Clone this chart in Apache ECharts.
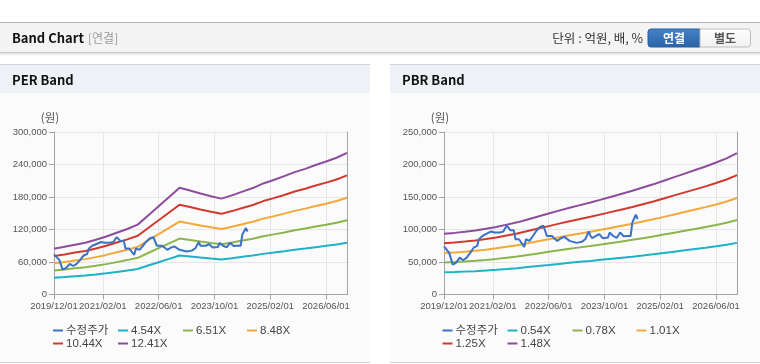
<!DOCTYPE html>
<html><head><meta charset="utf-8">
<script src="https://cdn.jsdelivr.net/npm/echarts@6/dist/echarts.min.js"></script>
<style>html,body{margin:0;padding:0;background:#fff;}#c{width:760px;height:364px;}</style>
</head><body><div id="c"></div>
<script>
// ---- data ----
const tickLabels = ['2019/12/01','2021/02/01','2022/06/01','2023/10/01','2025/02/01','2026/06/01'];
const bandDates = ['2019/12/01','2020/03/01','2020/06/01','2020/09/01','2020/12/01','2021/03/01','2021/06/01','2021/09/01','2021/12/01','2022/03/01','2022/06/01','2022/09/01','2022/12/01','2023/03/01','2023/06/01','2023/09/01','2023/12/01','2024/03/01','2024/06/01','2024/09/01','2024/12/01','2025/03/01','2025/06/01','2025/09/01','2025/12/01','2026/03/01','2026/06/01','2026/09/01','2026/12/01'];
const priceDates = ['2019/12/01','2019/12/16','2020/01/16','2020/02/16','2020/03/16','2020/04/16','2020/05/16','2020/06/16','2020/07/16','2020/08/16','2020/09/16','2020/10/01','2020/11/01','2020/12/01','2021/01/16','2021/02/16','2021/04/01','2021/05/01','2021/06/01','2021/07/01','2021/08/01','2021/08/16','2021/09/16','2021/11/01','2021/11/16','2021/12/16','2022/01/16','2022/02/16','2022/03/16','2022/04/16','2022/05/16','2022/07/01','2022/07/16','2022/08/16','2022/09/16','2022/10/16','2022/12/01','2023/02/01','2023/03/16','2023/04/16','2023/05/16','2023/06/01','2023/06/16','2023/07/16','2023/08/16','2023/09/16','2023/11/01','2023/11/16','2023/12/16','2024/01/16','2024/02/16','2024/03/16','2024/04/16','2024/05/16','2024/06/01','2024/07/01','2024/07/16'];
const priceValues = [74000,72000,64000,46000,49000,56700,52600,56700,64000,72000,74700,85000,90000,92800,97000,95400,95400,97000,106000,99000,99000,85000,85000,73200,85000,82500,90000,98000,104000,105700,90000,90000,86600,82500,86600,88700,82500,79400,81000,85000,97000,90000,86600,90000,92800,86600,87600,95400,90000,87000,95400,89700,90000,90000,110800,122700,116000];

const perNames = ['수정주가','4.54X','6.51X','8.48X','10.44X','12.41X'];
const pbrNames = ['수정주가','0.54X','0.78X','1.01X','1.25X','1.48X'];

const per454 = [30900,32200,33700,34900,36900,39100,41700,44300,47200,53400,59600,65800,72100,70200,68200,66400,64700,66900,69500,71900,75000,77400,79900,82700,84900,87400,89800,92400,95700];
const per651 = [44300,46200,48300,50100,53000,56100,59800,63500,67700,76600,85500,94400,103300,100700,97800,95200,92900,96000,99700,103100,107500,111000,114600,118600,121700,125400,128800,132500,137200];
const per848 = [57700,60100,62900,65300,69000,73100,77900,82700,88100,99800,111400,123000,134600,131200,127400,124000,120900,125000,129800,134300,140100,144500,149300,154400,158500,163300,167700,172500,178700];
const per1044 = [71100,74000,77400,80300,85000,90000,95900,101800,108500,122800,137100,151400,165700,161500,156900,152700,148900,154000,159800,165300,172500,177900,183800,190100,195200,201100,206500,212400,220000];
const per1241 = [84500,88000,92000,95500,101000,107000,114000,121000,129000,146000,163000,180000,197000,192000,186500,181500,177000,183000,190000,196500,205000,211500,218500,226000,232000,239000,245500,252500,261500];

const pbr054 = [34100,34600,35200,35900,36900,38000,39200,40500,42200,43800,45400,47100,48700,50200,51600,53300,54900,56600,58200,60000,61900,63900,65900,67900,69900,71900,74100,76500,79400];
const pbr078 = [49200,50000,50900,51900,53200,54800,56700,58500,60900,63200,65600,68000,70400,72500,74600,76900,79300,81700,84100,86700,89300,92200,95100,98000,100900,103800,107000,110400,114600];
const pbr101 = [63700,64700,65900,67200,68900,71000,73400,75800,78800,81900,85000,88000,91100,93800,96600,99600,102700,105800,108800,112300,115700,119400,123200,126900,130700,134400,138500,143000,148400];
const pbr125 = [78800,80100,81500,83200,85300,87800,90800,93800,97600,101400,105200,109000,112800,116100,119500,123300,127100,130900,134700,138900,143200,147800,152500,157100,161700,166400,171500,176900,183700];
const pbr148 = [93300,94800,96500,98500,101000,104000,107500,111000,115500,120000,124500,129000,133500,137500,141500,146000,150500,155000,159500,164500,169500,175000,180500,186000,191500,197000,203000,209500,217500];

const perYMax = 300000, perYStep = 60000;
const pbrYMax = 250000, pbrYStep = 50000;

const colors = ['#3a72c4','#1db2c6','#8bb54c','#f4a83a','#d03a2e','#8d4c9c'];

// ---- build ----
const categories = [];
(function(){
  let y = 2019, m = 12;
  while (true) {
    const mm = (m < 10 ? '0' : '') + m;
    categories.push(y + '/' + mm + '/01');
    if (y === 2026 && m === 12) break;
    categories.push(y + '/' + mm + '/16');
    m++; if (m > 12) { m = 1; y++; }
  }
})();
const showTick = (i, v) => tickLabels.indexOf(v) >= 0;
const pairs = (d, v) => d.map((x, i) => [x, v[i]]);

const FONT_NUM = "'Liberation Sans', Arial, sans-serif";
const FONT_KR = "'Noto Sans CJK KR', 'Liberation Sans', sans-serif";
const FONT_MIX = "'Liberation Sans', 'Noto Sans CJK KR', sans-serif";
const axisColor = '#a3a3a3';

function xAxisCfg(gi) {
  return {
    type: 'category', gridIndex: gi, data: categories, boundaryGap: false,
    axisLine: { lineStyle: { color: axisColor } },
    axisTick: { interval: showTick, length: 5, lineStyle: { color: axisColor } },
    axisLabel: { interval: showTick, fontSize: 9.5, color: '#555', margin: 7, fontFamily: FONT_NUM },
    splitLine: { show: true, interval: showTick, lineStyle: { color: '#e6e6e6' } }
  };
}
function yAxisCfg(gi, max, step) {
  return {
    type: 'value', gridIndex: gi, min: 0, max: max, interval: step,
    axisLine: { show: true, lineStyle: { color: axisColor } },
    axisTick: { show: true, length: 5, lineStyle: { color: axisColor } },
    axisLabel: { fontSize: 9.5, color: '#555', margin: 7, fontFamily: FONT_NUM,
      formatter: v => v.toString().replace(/\B(?=(\d{3})+(?!\d))/g, ',') },
    splitLine: { lineStyle: { color: '#e6e6e6' } }
  };
}
function yBorderCfg(gi, max) {
  return {
    type: 'value', gridIndex: gi, position: 'right', min: 0, max: max,
    axisLine: { show: true, lineStyle: { color: axisColor } },
    axisTick: { show: false }, axisLabel: { show: false }, splitLine: { show: false }
  };
}
function lineSeries(name, data, color, xi, yi, z) {
  return { type: 'line', name: name, data: data, xAxisIndex: xi, yAxisIndex: yi,
    showSymbol: false, symbol: 'none', lineStyle: { width: 2, color: color },
    itemStyle: { color: color }, z: z || 2 };
}

const series = [
  lineSeries(perNames[0], pairs(priceDates, priceValues), colors[0], 0, 0, 5),
  lineSeries(perNames[1], pairs(bandDates, per454), colors[1], 0, 0),
  lineSeries(perNames[2], pairs(bandDates, per651), colors[2], 0, 0),
  lineSeries(perNames[3], pairs(bandDates, per848), colors[3], 0, 0),
  lineSeries(perNames[4], pairs(bandDates, per1044), colors[4], 0, 0),
  lineSeries(perNames[5], pairs(bandDates, per1241), colors[5], 0, 0),
  lineSeries(pbrNames[0], pairs(priceDates, priceValues), colors[0], 1, 2, 5),
  lineSeries(pbrNames[1], pairs(bandDates, pbr054), colors[1], 1, 2),
  lineSeries(pbrNames[2], pairs(bandDates, pbr078), colors[2], 1, 2),
  lineSeries(pbrNames[3], pairs(bandDates, pbr101), colors[3], 1, 2),
  lineSeries(pbrNames[4], pairs(bandDates, pbr125), colors[4], 1, 2),
  lineSeries(pbrNames[5], pairs(bandDates, pbr148), colors[5], 1, 2)
];

const legendPos = [[53,324],[118,324],[183,324],[247,324],[53,337],[118,337]];
const legends = [];
[perNames, pbrNames].forEach((names, c) => {
  names.forEach((n, i) => {
    legends.push({
      data: [n], left: legendPos[i][0] + c * 389.5, top: legendPos[i][1],
      icon: 'rect', itemWidth: 10, itemHeight: 2, padding: 0,
      textStyle: { fontSize: 11.5, color: '#444', fontFamily: FONT_MIX, lineHeight: 13, padding: [0,0,0,-2] },
      selectedMode: false
    });
  });
});

const graphics = [
  { type: 'rect', shape: { x: 0, y: 22, width: 760, height: 1 }, style: { fill: '#b3b3b3' }, silent: true },
  { type: 'rect', shape: { x: 0, y: 23, width: 760, height: 29 }, style: { fill: '#f4f4f4' }, silent: true },
  { type: 'rect', shape: { x: 0, y: 52, width: 760, height: 1 }, style: { fill: '#c9c9c9' }, silent: true },
  { type: 'rect', shape: { x: 0, y: 53, width: 760, height: 3 },
    style: { fill: new echarts.graphic.LinearGradient(0,0,0,1,[{offset:0,color:'#e2e2e2'},{offset:1,color:'#ffffff'}]) }, silent: true },
  { type: 'text', x: 12, y: 38, style: { text: 'Band Chart', font: "bold 13px " + FONT_KR, fill: '#111', verticalAlign: 'middle' } },
  { type: 'text', x: 88, y: 38, style: { text: '[연결]', font: "12px " + FONT_KR, fill: '#999', verticalAlign: 'middle' } },
  { type: 'text', x: 643, y: 38, style: { text: '단위 : 억원, 배, %', font: "12.5px " + FONT_KR, fill: '#333', align: 'right', verticalAlign: 'middle' } },
  { type: 'rect', shape: { x: 648, y: 29, width: 52, height: 18, r: [3,0,0,3] },
    style: { fill: new echarts.graphic.LinearGradient(0,0,0,1,[{offset:0,color:'#4583c6'},{offset:1,color:'#2a63a6'}]), stroke: '#2a5e9c' } },
  { type: 'text', x: 674, y: 38, style: { text: '연결', font: "bold 12px " + FONT_KR, fill: '#fff', align: 'center', verticalAlign: 'middle' } },
  { type: 'rect', shape: { x: 700, y: 29, width: 50.5, height: 18, r: [0,3,3,0] },
    style: { fill: new echarts.graphic.LinearGradient(0,0,0,1,[{offset:0,color:'#ffffff'},{offset:1,color:'#f0f0f0'}]), stroke: '#bdbdbd' } },
  { type: 'text', x: 725, y: 38, style: { text: '별도', font: "bold 12px " + FONT_KR, fill: '#555', align: 'center', verticalAlign: 'middle' } }
];
[[0, 'PER Band'], [390, 'PBR Band']].forEach(([x0, title]) => {
  graphics.push(
    { type: 'rect', shape: { x: x0, y: 64, width: 370, height: 1 }, style: { fill: '#d3d3d3' }, silent: true, z: -10 },
    { type: 'rect', shape: { x: x0, y: 65, width: 370, height: 28 }, style: { fill: '#eef2f7' }, silent: true, z: -10 },
    { type: 'rect', shape: { x: x0, y: 93, width: 370, height: 269 }, style: { fill: '#fbfbfb' }, silent: true, z: -10 },
    { type: 'rect', shape: { x: x0, y: 362, width: 370, height: 1 }, style: { fill: '#d0d0d0' }, silent: true, z: -10 },
    { type: 'text', x: x0 + 12, y: 80, style: { text: title, font: "bold 13px " + FONT_KR, fill: '#111', verticalAlign: 'middle' } },
    { type: 'text', x: x0 + 50, y: 118, style: { text: '(원)', font: "11.5px " + FONT_KR, fill: '#555', align: 'center', verticalAlign: 'middle' } }
  );
});

const chart = echarts.init(document.getElementById('c'), null, { renderer: 'canvas' });
chart.setOption({
  animation: false,
  backgroundColor: '#ffffff',
  graphic: graphics,
  legend: legends,
  grid: [
    { left: 54, top: 132, width: 293, height: 162.5 },
    { left: 444, top: 132, width: 293, height: 162.5 }
  ],
  xAxis: [xAxisCfg(0), xAxisCfg(1)],
  yAxis: [yAxisCfg(0, perYMax, perYStep), yBorderCfg(0, perYMax), yAxisCfg(1, pbrYMax, pbrYStep), yBorderCfg(1, pbrYMax)],
  series: series
});
</script></body></html>
